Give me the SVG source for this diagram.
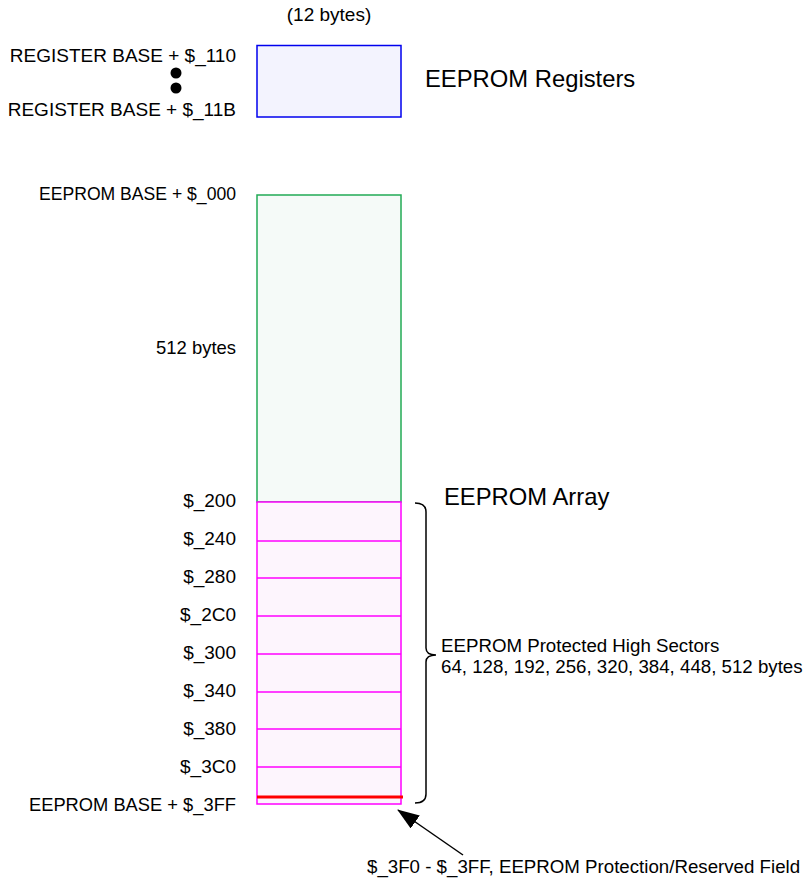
<svg xmlns="http://www.w3.org/2000/svg" width="804" height="890" viewBox="0 0 804 890">
<defs>
<style>
text{font-family:"Liberation Sans",Arial,sans-serif;fill:#000}
.lbl{font-size:19px;text-anchor:end}
.big{font-size:23.8px}
.mid{font-size:18.7px}
.sec{fill:none;stroke:#ff00ff;stroke-width:1.5}
</style>
<marker id="ah" viewBox="0 0 22 16" refX="21" refY="8" markerWidth="22" markerHeight="16" markerUnits="userSpaceOnUse" orient="auto">
<path d="M0,0 L22,8 L0,16 Z" fill="#000"/>
</marker>
</defs>
<rect width="804" height="890" fill="#fff"/>
<g id="registers">
<text class="lbl" x="329" y="21" style="text-anchor:middle">(12 bytes)</text>
<rect x="257" y="45.5" width="144" height="71.5" fill="#f3f3fe" stroke="#0000ee" stroke-width="1.5"/>
<text class="lbl" x="236" y="62">REGISTER BASE + $_110</text>
<circle cx="176" cy="73" r="5.5" fill="#000"/>
<circle cx="176" cy="88" r="5.5" fill="#000"/>
<text class="lbl" x="236" y="116">REGISTER BASE + $_11B</text>
<text class="big" x="425" y="87">EEPROM Registers</text>
</g>
<g id="eeprom-low">
<rect x="257" y="195" width="144" height="307" fill="#f5faf8" stroke="#22aa55" stroke-width="1.5"/>
<text class="lbl" x="236" y="200" textLength="197" lengthAdjust="spacingAndGlyphs">EEPROM BASE + $_000</text>
<text class="lbl" x="236" y="354" textLength="80" lengthAdjust="spacingAndGlyphs">512 bytes</text>
</g>
<g id="eeprom-sectors">
<rect x="257" y="502" width="144" height="302" fill="#fdf5fd" stroke="#ff00ff" stroke-width="1.5"/>
<line class="sec" x1="257" y1="541" x2="401" y2="541"/>
<line class="sec" x1="257" y1="578" x2="401" y2="578"/>
<line class="sec" x1="257" y1="616" x2="401" y2="616"/>
<line class="sec" x1="257" y1="654" x2="401" y2="654"/>
<line class="sec" x1="257" y1="692" x2="401" y2="692"/>
<line class="sec" x1="257" y1="729" x2="401" y2="729"/>
<line class="sec" x1="257" y1="767" x2="401" y2="767"/>
<line x1="257" y1="797" x2="403" y2="797" stroke="#ff0000" stroke-width="3"/>
<text class="lbl" x="236" y="507">$_200</text>
<text class="lbl" x="236" y="545">$_240</text>
<text class="lbl" x="236" y="583">$_280</text>
<text class="lbl" x="236" y="621">$_2C0</text>
<text class="lbl" x="236" y="659">$_300</text>
<text class="lbl" x="236" y="697">$_340</text>
<text class="lbl" x="236" y="735">$_380</text>
<text class="lbl" x="236" y="773">$_3C0</text>
<text class="lbl" x="236" y="811" textLength="207" lengthAdjust="spacingAndGlyphs">EEPROM BASE + $_3FF</text>
</g>
<g id="array-label">
<text class="big" x="444" y="505">EEPROM Array</text>
<text class="mid" x="441" y="652">EEPROM Protected High Sectors</text>
<text class="mid" x="441" y="673">64, 128, 192, 256, 320, 384, 448, 512 bytes</text>
<text class="mid" x="367" y="873">$_3F0 - $_3FF, EEPROM Protection/Reserved Field</text>
</g>
<g id="connectors" fill="none" stroke="#000" stroke-width="1.5">
<path d="M415,503 Q426,503 426,512 L426,648 Q426,655 436,655 Q426,655 426,662 L426,794 Q426,803 415,803"/>
<line x1="463" y1="855" x2="398" y2="810" marker-end="url(#ah)"/>
</g>
</svg>
